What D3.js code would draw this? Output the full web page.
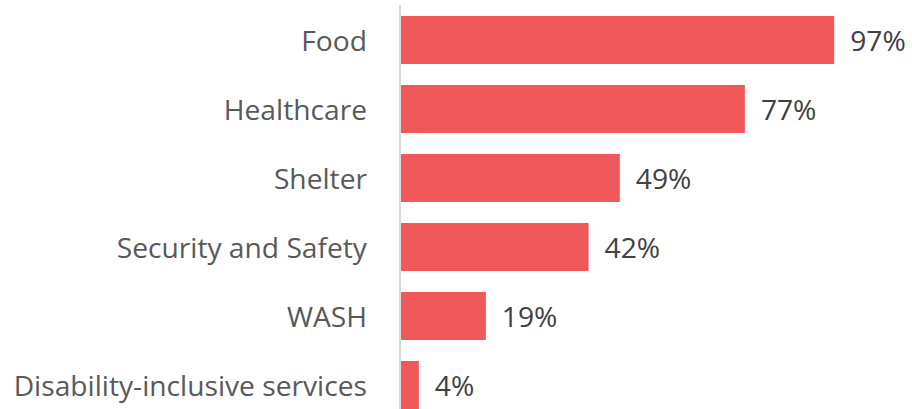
<!DOCTYPE html>
<html>
<head>
<meta charset="utf-8">
<script src="https://cdn.jsdelivr.net/npm/d3@7"></script>
<style>
  html, body { margin: 0; padding: 0; background: #fff; }
  svg { display: block; }
</style>
</head>
<body>
<svg id="chart" width="912" height="409"></svg>
<script>
// Share of respondents citing each need
const categories = ["Food", "Healthcare", "Shelter", "Security and Safety", "WASH", "Disability-inclusive services"];
const values = [97, 77, 49, 42, 19, 4];

const W = 912, H = 409;
const svg = d3.select("#chart");
const font = "'Open Sans', 'Noto Sans', sans-serif";

const x = d3.scaleLinear().domain([0, 100]).range([401, 401 + 446.6]);
const y = d3.scaleBand()
  .domain(categories)
  .range([5.5, 5.5 + 6 * 69])
  .paddingInner(0.304)
  .paddingOuter(0.152);

// bars
svg.append("g")
  .selectAll("rect")
  .data(categories)
  .join("rect")
  .attr("x", x(0))
  .attr("y", d => y(d))
  .attr("width", (d, i) => x(values[i]) - x(0))
  .attr("height", y.bandwidth())
  .attr("fill", "#ef595b");

// vertical baseline
svg.append("line")
  .attr("x1", 400).attr("x2", 400)
  .attr("y1", 5).attr("y2", H)
  .attr("stroke", "#d9d9d9")
  .attr("stroke-width", 2);

// category labels
svg.append("g")
  .selectAll("text")
  .data(categories)
  .join("text")
  .attr("x", 367)
  .attr("y", d => y(d) + y.bandwidth() / 2)
  .attr("text-anchor", "end")
  .attr("dominant-baseline", "central")
  .attr("font-family", font)
  .attr("font-size", 28.2)
  .attr("fill", "#595959")
  .text(d => d);

// value labels
svg.append("g")
  .selectAll("text")
  .data(categories)
  .join("text")
  .attr("x", (d, i) => x(values[i]) + 16)
  .attr("y", d => y(d) + y.bandwidth() / 2)
  .attr("dominant-baseline", "central")
  .attr("font-family", font)
  .attr("font-size", 28.2)
  .attr("fill", "#404040")
  .text((d, i) => values[i] + "%");
</script>
</body>
</html>
